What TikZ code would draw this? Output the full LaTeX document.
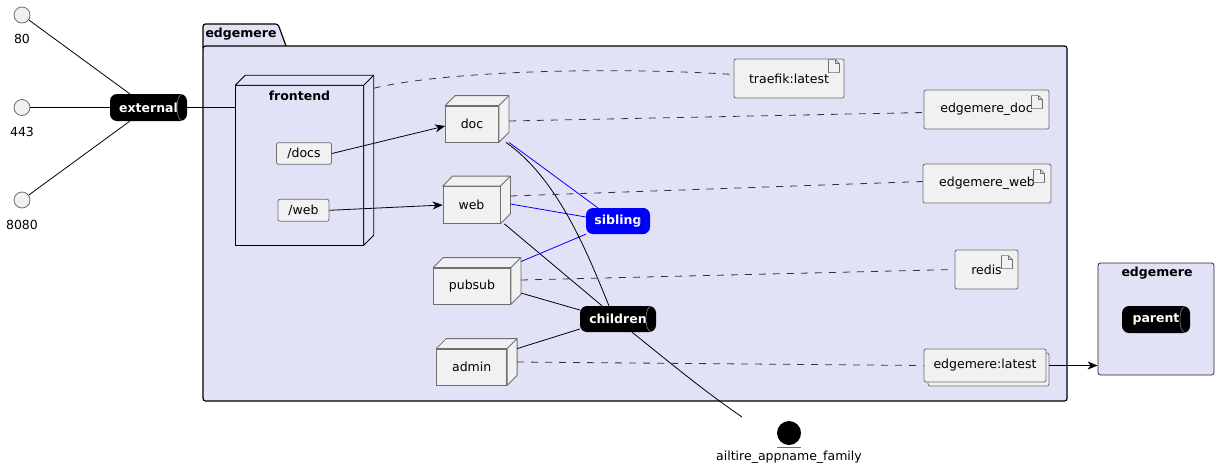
\documentclass[tikz,border=0pt]{standalone}
\usepackage{fontspec}
\setmainfont{DejaVu Sans}
\usetikzlibrary{calc,arrows.meta}
\definecolor{pkgfill}{RGB}{226,226,247}
\definecolor{nfill}{RGB}{241,241,241}
\definecolor{nline}{RGB}{110,110,110}
\tikzset{
 base/.style={font=\fontsize{12.5}{15}\selectfont},
 boldtxt/.style={font=\fontsize{12.5}{15}\selectfont\bfseries},
 cube/.style={draw=nline, fill=nfill, line width=0.8pt, inner sep=0pt},
 pathbox/.style={draw=nline, fill=nfill, line width=0.8pt, inner sep=0pt, rounded corners=2pt},
 artifact/.style={draw=nline, fill=nfill, rounded corners=2pt, line width=0.8pt, inner sep=0pt},
 queue/.style={fill=black, text=white, font=\fontsize{12.5}{15}\selectfont\bfseries, rounded corners=7pt, inner sep=0pt},
 iface/.style={circle, draw=nline, fill=nfill, minimum size=16pt, inner sep=0pt, line width=0.8pt},
 link/.style={line width=0.8pt, black},
 bluelink/.style={line width=0.8pt, blue},
 dep/.style={line width=0.8pt, black!80, dash pattern=on 7pt off 7pt},
 arr/.style={line width=0.8pt, -{Stealth[length=10pt,width=8pt,inset=3pt]}},
}
\newcommand\cubefaces[3]{% name, fill, line
 \filldraw[fill=#2,draw=#3,line width=0.8pt,line join=round] (#1.north west) -- ++(10,-10) -- ($(#1.north east)+(10,-10)$) -- ($(#1.south east)+(10,-10)$) -- (#1.south east) -- (#1.north east) -- cycle;
 \draw[draw=#3,line width=0.8pt] (#1.north east) -- ++(10,-10);
}
\newcommand\docicon[3]{% name, left offset, down offset
 \filldraw[fill=nfill,draw=nline,line width=0.7pt,line join=round] ($(#1.north east)+(-#2,#3)$) -- ++(0,13) -- ++(11,0) -- ++(0,-9) -- ++(-4,-4) -- cycle;
 \draw[nline,line width=0.7pt,line join=round] ($(#1.north east)+(-#2,#3)+(7,0)$) -- ++(0,4) -- ++(4,0);
}
\newcommand\queueend[2]{%
 \draw[#2, line width=0.6pt] ($(#1.north east)+(-5,0.5)$) .. controls ($(#1.north east)+(-12,0.5)$) and ($(#1.south east)+(-12,-0.5)$) .. ($(#1.south east)+(-5,-0.5)$);
}
\begin{document}
\begin{tikzpicture}[x=1pt,y=-1pt,base]
\useasboundingbox (0,0) rectangle (1218,469);
% package edgemere
\filldraw[fill=pkgfill, draw=black, line width=1.2pt, rounded corners=2.5pt] (203,48) -- (203,24) -- (278,24) -- (286,46);
\filldraw[fill=pkgfill, draw=black, line width=1.2pt, rounded corners=2.5pt] (203,46) rectangle (1067,401);
\node[boldtxt] (pkgtitle) at (241,34.5) {edgemere};
% parent box
\node[draw=black!85, fill=pkgfill, rounded corners=2.5pt, minimum width=116pt, minimum height=112pt, line width=0.8pt] (parentbox) at (1156,319) {};
\node[boldtxt] (parenttitle) at (1157,273) {edgemere};
\node[queue, minimum width=68pt, minimum height=27pt] (parent) at (1156,319.5) {parent\hspace{8pt}};
\queueend{parent}{gray}
% interfaces
\node[iface] (c80) at (22,15) {};
\node[iface] (c443) at (22,107.5) {};
\node[iface] (c8080) at (22,200) {};
\node (l80) at (22,39) {80};
\node (l443) at (22,132) {443};
\node (l8080) at (22,225) {8080};
\node[queue, minimum width=77pt, minimum height=27pt] (external) at (148.5,107.5) {external\hspace{8pt}};
\queueend{external}{gray}
% frontend
\node[draw=black, fill=pkgfill, line width=0.8pt, minimum width=127.6pt, minimum height=159.3pt, inner sep=0pt] (frontend) at (299.5,165.3) {};
\cubefaces{frontend}{pkgfill}{black}
\node[boldtxt] (fronttitle) at (299.5,96) {frontend};
\node[pathbox, minimum width=55pt, minimum height=21.6pt] (docs) at (304,153.5) {/docs};
\node[pathbox, minimum width=51pt, minimum height=22pt] (webp) at (303.5,210.3) {/web};
% cubes
\node[cube, minimum width=53pt, minimum height=36pt] (doc) at (472,124) {doc};
\cubefaces{doc}{nfill}{nline}
\node[cube, minimum width=57pt, minimum height=37pt] (web) at (471.5,205) {web};
\cubefaces{web}{nfill}{nline}
\node[cube, minimum width=77pt, minimum height=36pt] (pubsub) at (472,286) {pubsub};
\cubefaces{pubsub}{nfill}{nline}
\node[cube, minimum width=70pt, minimum height=36pt] (admin) at (471.7,367) {admin};
\cubefaces{admin}{nfill}{nline}
% queues
\node[queue, fill=blue, minimum width=64pt, minimum height=26pt] (sibling) at (618,221) {sibling\hspace{8pt}};
\queueend{sibling}{blue!55!black}
\node[queue, minimum width=76pt, minimum height=26pt] (children) at (618,319) {children\hspace{8pt}};
\queueend{children}{gray}
% artifacts
\node[artifact, minimum width=110pt, minimum height=39pt] (traefik) at (789,78.5) {traefik:latest\hspace{8pt}};
\docicon{traefik}{16}{1}
\node[artifact, minimum width=125pt, minimum height=39pt] (edoc) at (986.5,109.5) {edgemere\_doc\hspace{10pt}};
\docicon{edoc}{18}{6}
\node[artifact, minimum width=128pt, minimum height=39pt] (eweb) at (987,183.5) {edgemere\_web\hspace{11pt}};
\docicon{eweb}{18}{6}
\node[artifact, minimum width=63pt, minimum height=39pt] (redis) at (986.5,269.5) {redis\hspace{10pt}};
\docicon{redis}{17}{6}
\filldraw[fill=nfill, draw=nline, line width=0.8pt, rounded corners=2pt] (928,353) rectangle (1049,386);
\node[artifact, minimum width=122pt, minimum height=33pt] (elatest) at (985,365.5) {edgemere:latest};
% family entity
\node[circle, fill=black, minimum size=24pt, inner sep=0pt] (ail) at (789,433) {};
\draw[nline, line width=0.8pt] ($(ail.south)+(-12,2)$) -- ++(24,0);
\node (aillbl) at (789,457) {ailtire\_appname\_family};
\coordinate (ailend) at (742,417);
% connectors
\draw[link] (c80) -- (external);
\draw[link] (c443) -- (external);
\draw[link] (c8080) -- (external);
\draw[link] (external.east) -- (frontend.west |- external.east);
\draw[arr] (docs.east) -- ($(doc.west)+(0,2)$);
\draw[arr] (webp.east) -- (web.west);
\draw[bluelink] ($(doc.south east)+(10,0)$) -- ($(sibling.north west)+(12,0)$);
\draw[bluelink] ($(web.east)+(10,-1)$) -- ($(sibling.west)+(0,-4)$);
\draw[bluelink] ($(pubsub.north east)+(10,-6)$) -- (sibling.south west);
\draw[link] ($(doc.south east)+(7,0)$) .. controls (560,180) and (590,260) .. ($(children.north)+(-9,0)$);
\draw[link] ($(web.south east)+(4,0)$) -- ($(children.north)+(-16,0)$);
\draw[link] ($(pubsub.east)+(10,7)$) -- ($(children.west)+(0,-9)$);
\draw[link] ($(admin.north east)+(10,0)$) -- ($(children.west)+(0,10)$);
\draw[link] ($(children.south)+(14,0)$) .. controls (668,361) and (700,388) .. (ailend);
\draw[dep] ($(frontend.north east)+(10,3)$) .. controls (440,72) and (600,66) .. ($(traefik.west)+(0,-4)$);
\draw[dep] ($(doc.east)+(10,-3)$) -- ($(edoc.west)+(0,3)$);
\draw[dep] ($(web.east)+(10,-9)$) -- ($(eweb.west)+(0,-2)$);
\draw[dep] ($(pubsub.east)+(10,-6)$) -- (redis.west);
\draw[dep] ($(admin.east)+(10,-5)$) -- (elatest.west);
\draw[arr] ($(elatest.east)+(3,0)$) -- (parentbox.west |- elatest.east);
\end{tikzpicture}
\end{document}
